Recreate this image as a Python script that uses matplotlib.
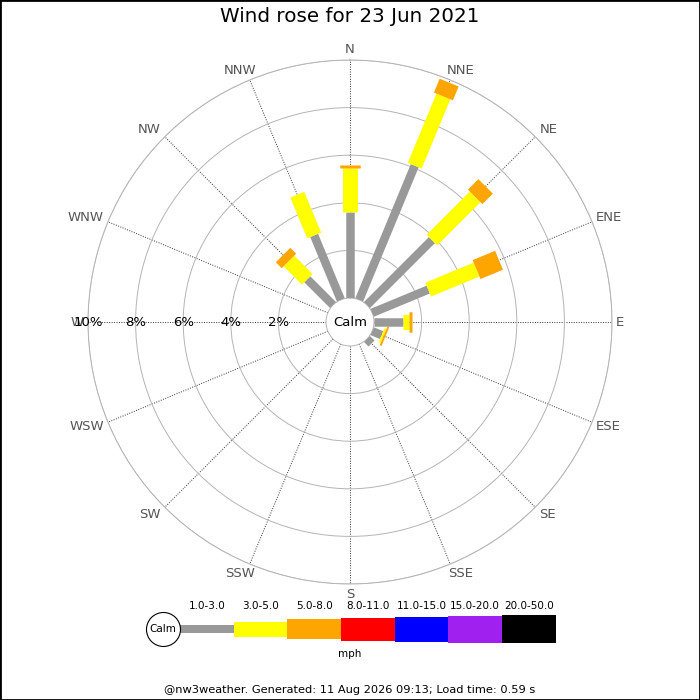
import numpy as np
import matplotlib
matplotlib.use("Agg")
import matplotlib.pyplot as plt
from matplotlib.patches import Rectangle
from matplotlib.transforms import offset_copy

# direction names, clockwise from north
directions = ['N', 'NNE', 'NE', 'ENE', 'E', 'ESE', 'SE', 'SSE',
              'S', 'SSW', 'SW', 'WSW', 'W', 'WNW', 'NW', 'NNW']

# frequency (%) in each speed bin, per direction
bin_1_3 = [3.60, 6.10, 3.86, 2.55, 1.20, 0.43, 0.27, 0, 0, 0, 0, 0, 0, 0, 1.53, 2.93]
bin_3_5 = [1.87, 3.15, 2.57, 2.20, 0.28, 0.09, 0, 0, 0, 0, 0, 0, 0, 0, 1.09, 1.85]
bin_5_8 = [0.10, 0.63, 0.62, 1.02, 0.10, 0.08, 0, 0, 0, 0, 0, 0, 0, 0, 0.35, 0]

speed_labels = ['1.0-3.0', '3.0-5.0', '5.0-8.0', '8.0-11.0',
                '11.0-15.0', '15.0-20.0', '20.0-50.0']
speed_colors = ['#999999', '#ffff00', '#ffa500', '#ff0000',
                '#0000ff', '#a020f0', '#000000']
bar_px = [8.5, 15, 20.5, 23, 25, 27, 28.5]   # bar thickness in pixels

rings = [2, 4, 6, 8, 10]

title = 'Wind rose for 23 Jun 2021'
footer = '@nw3weather. Generated: 11 Aug 2026 09:13; Load time: 0.59 s'

DPI = 100
fig = plt.figure(figsize=(7, 7), dpi=DPI)
px2pt = 72.0 / DPI

# --- rose ---
R = 262
cx, cy = 350, 322
ax = fig.add_axes([(cx - R) / 700, (700 - cy - R) / 700, 2 * R / 700, 2 * R / 700],
                  projection='polar')
ax.set_theta_zero_location('N')
ax.set_theta_direction(-1)
ax.set_rlim(0, 10)
ax.set_rorigin(-1.008)

thetas = np.deg2rad(np.arange(16) * 22.5)
ax.set_xticks(thetas)
ax.set_xticklabels([])
ax.set_yticks(rings)
ax.set_yticklabels([])
ax.xaxis.grid(True, color='#333333', linestyle=(0, (1, 1.5)), linewidth=0.7)
ax.yaxis.grid(True, color='#b4b4b4', linestyle='-', linewidth=0.7)
for name, sp in ax.spines.items():
    sp.set_color('#b4b4b4')
    sp.set_linewidth(0.7)
ax.tick_params(length=0)

bins = [bin_1_3, bin_3_5, bin_5_8]
for i, th in enumerate(thetas):
    start = 0.0
    for b, vals in enumerate(bins):
        v = vals[i]
        if v <= 0:
            continue
        ax.plot([th, th], [start, start + v], color=speed_colors[b],
                lw=bar_px[b] * px2pt, solid_capstyle='butt', zorder=3)
        start += v

# compass labels just outside the outer ring
for th, name in zip(thetas, directions):
    s, c = np.sin(th), np.cos(th)
    if abs(s) < 0.01:
        ha, dx = 'center', 0
    elif abs(s) < 0.5:
        ha, dx = 'center', 10 * np.sign(s)
    else:
        ha, dx = ('left' if s > 0 else 'right'), 4 * np.sign(s)
    tr = offset_copy(ax.transData, fig=fig, x=dx, y=10.5 * c, units='dots')
    ax.text(th, 10, name, ha=ha, va='center', fontsize=9.5,
            color='#555555', clip_on=False, transform=tr)

for r in rings:
    ax.text(np.deg2rad(270), r, f'{r}%', ha='center', va='center',
            fontsize=9.5, color='black', zorder=4)

ax.text(0.5, 0.5, 'Calm', transform=ax.transAxes, ha='center', va='center',
        fontsize=9.5)

# --- legend ---
seg = 53.67
x0 = 180
lx0, lx1 = 140, 570
ly_top, ly_bot, ly_mid = 590, 665, 629
lax = fig.add_axes([lx0 / 700, (700 - ly_bot) / 700, (lx1 - lx0) / 700,
                    (ly_bot - ly_top) / 700])
lax.set_xlim((lx0 - x0) / seg, (lx1 - x0) / seg)
lax.set_ylim(-(ly_bot - ly_mid), ly_mid - ly_top)
lax.axis('off')

idx = np.arange(len(speed_labels))
hts = np.array(bar_px)
lax.bar(idx, hts, bottom=-hts / 2, width=1.0, align='edge',
        color=speed_colors, linewidth=0)
for i, lab in enumerate(speed_labels):
    lax.text(i + 0.5, 23, lab, ha='center', va='center', fontsize=7.5)
lax.scatter([-17 / seg], [0], s=(34 * px2pt) ** 2, facecolor='white',
            edgecolor='black', linewidth=0.8, zorder=3, clip_on=False)
lax.text(-17 / seg, 0, 'Calm', ha='center', va='center', fontsize=7.5, zorder=4)

fig.text(0.5, 1 - 654 / 700, 'mph', ha='center', va='center', fontsize=7.5)

# --- title, footer, border ---
fig.text(0.5, 1 - 17 / 700, title, ha='center', va='center', fontsize=14.3)
fig.text(0.5, 1 - 690 / 700, footer, ha='center', va='center', fontsize=8.2)
fig.patches.append(Rectangle((0, 0), 1, 1, transform=fig.transFigure,
                             fill=False, edgecolor='black', linewidth=2))

fig.savefig('out.png', dpi=DPI)
